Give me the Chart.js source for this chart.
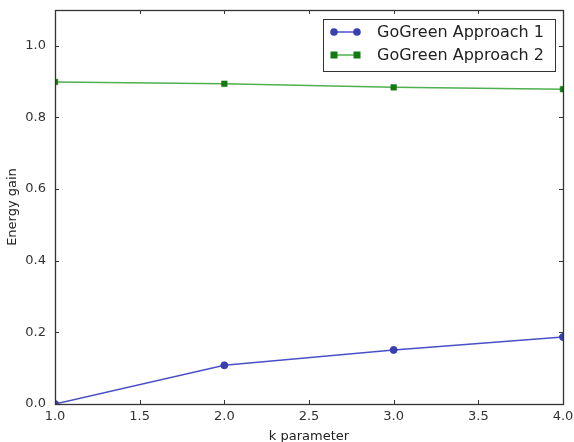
<!DOCTYPE html>
<html><head><meta charset="utf-8">
<script src="https://cdn.jsdelivr.net/npm/chart.js@4"></script>
<style>html,body{margin:0;padding:0;background:#fff}#wrap{width:574px;height:442px}</style>
</head><body><div id="wrap"><canvas id="c" width="574" height="442"></canvas></div>
<script>
const kValues = [1.0, 2.0, 3.0, 4.0];
const approach1 = [0.0, 0.108, 0.151, 0.187];
const approach2 = [0.899, 0.894, 0.884, 0.879];
const seriesNames = ["GoGreen Approach 1", "GoGreen Approach 2"];
const xTicks = [1.0, 1.5, 2.0, 2.5, 3.0, 3.5, 4.0];
const yTicks = [0.0, 0.2, 0.4, 0.6, 0.8, 1.0];
const FONT = "DejaVu Sans";
const blue = "#3a3fb0", blueLine = "#4a4fc8";
const green = "#137a13", greenLine = "#4fb04f";

const frame = {
  id: 'frame',
  afterDatasetsDraw(chart) {
    const {ctx, chartArea: a, scales} = chart;
    ctx.save();
    ctx.strokeStyle = '#333';
    ctx.lineWidth = 1;
    ctx.beginPath();
    for (const v of xTicks) {
      const x = Math.round(scales.x.getPixelForValue(v)) + 0.5;
      ctx.moveTo(x, a.bottom); ctx.lineTo(x, a.bottom - 4);
      ctx.moveTo(x, a.top); ctx.lineTo(x, a.top + 4);
    }
    for (const v of yTicks) {
      const y = Math.round(scales.y.getPixelForValue(v)) + 0.5;
      ctx.moveTo(a.left, y); ctx.lineTo(a.left + 4, y);
      ctx.moveTo(a.right, y); ctx.lineTo(a.right - 4, y);
    }
    ctx.stroke();
    ctx.lineWidth = 1.3;
    ctx.strokeRect(Math.round(a.left)+0.5, Math.round(a.top)+0.5, Math.round(a.right-a.left), Math.round(a.bottom-a.top));
    // legend
    const lx = 323, ly = 19, lw = 232, lh = 52;
    ctx.fillStyle = '#fff';
    ctx.fillRect(lx, ly, lw, lh);
    ctx.lineWidth = 1;
    ctx.strokeStyle = '#333';
    ctx.strokeRect(lx + 0.5, ly + 0.5, lw, lh);
    ctx.font = "16px " + FONT;
    ctx.textBaseline = 'middle';
    chart.data.datasets.forEach((ds, i) => {
      const y = ly + 13 + i * 23;
      ctx.strokeStyle = ds.borderColor;
      ctx.lineWidth = 1.5;
      ctx.beginPath(); ctx.moveTo(334, y); ctx.lineTo(357, y); ctx.stroke();
      ctx.fillStyle = ds.pointBackgroundColor;
      for (const px of [334, 357]) {
        if (ds.pointStyle === 'rect') ctx.fillRect(px - 3.5, y - 3.5, 7, 7);
        else { ctx.beginPath(); ctx.arc(px, y, 3.8, 0, Math.PI * 2); ctx.fill(); }
      }
      ctx.fillStyle = '#222';
      ctx.fillText(ds.label, 377, y + 1);
    });
    ctx.restore();
  }
};

new Chart(document.getElementById('c'), {
  type: 'line',
  data: {
    datasets: [
      { label: seriesNames[0], data: kValues.map((k, i) => ({x: k, y: approach1[i]})),
        borderColor: blueLine, backgroundColor: blue, pointBackgroundColor: blue, pointBorderColor: blue,
        pointStyle: 'circle', pointRadius: 3.5, pointBorderWidth: 1, borderWidth: 1.5, clip: 0 },
      { label: seriesNames[1], data: kValues.map((k, i) => ({x: k, y: approach2[i]})),
        borderColor: greenLine, backgroundColor: green, pointBackgroundColor: green, pointBorderColor: green,
        pointStyle: 'rect', pointRadius: 4, pointBorderWidth: 0.5, borderWidth: 1.5, clip: 0 }
    ]
  },
  options: {
    responsive: false, animation: false,
    layout: { padding: { top: 10, right: 11, left: 0, bottom: 0 } },
    plugins: { legend: { display: false }, tooltip: { enabled: false } },
    scales: {
      x: {
        type: 'linear', min: 1, max: 4,
        afterBuildTicks: s => { s.ticks = xTicks.map(v => ({value: v})); },
        afterFit: s => { s.height = 38; },
        grid: { display: false }, border: { display: false },
        ticks: { color: '#333', font: { family: FONT, size: 13 }, padding: -3, maxRotation: 0,
          callback: v => Number(v).toFixed(1) },
        title: { display: true, text: 'k parameter', color: '#222', font: { family: FONT, size: 13 }, padding: { top: 2, bottom: -2 } }
      },
      y: {
        type: 'linear', min: 0, max: 1.1,
        afterBuildTicks: s => { s.ticks = yTicks.map(v => ({value: v})); },
        afterFit: s => { s.width = 55; },
        grid: { display: false }, border: { display: false },
        ticks: { color: '#333', font: { family: FONT, size: 13 }, padding: 1,
          callback: v => Number(v).toFixed(1) },
        title: { display: true, text: 'Energy gain', color: '#222', font: { family: FONT, size: 13 }, padding: { top: 5, bottom: 0 } }
      }
    }
  },
  plugins: [frame]
});
</script></body></html>
